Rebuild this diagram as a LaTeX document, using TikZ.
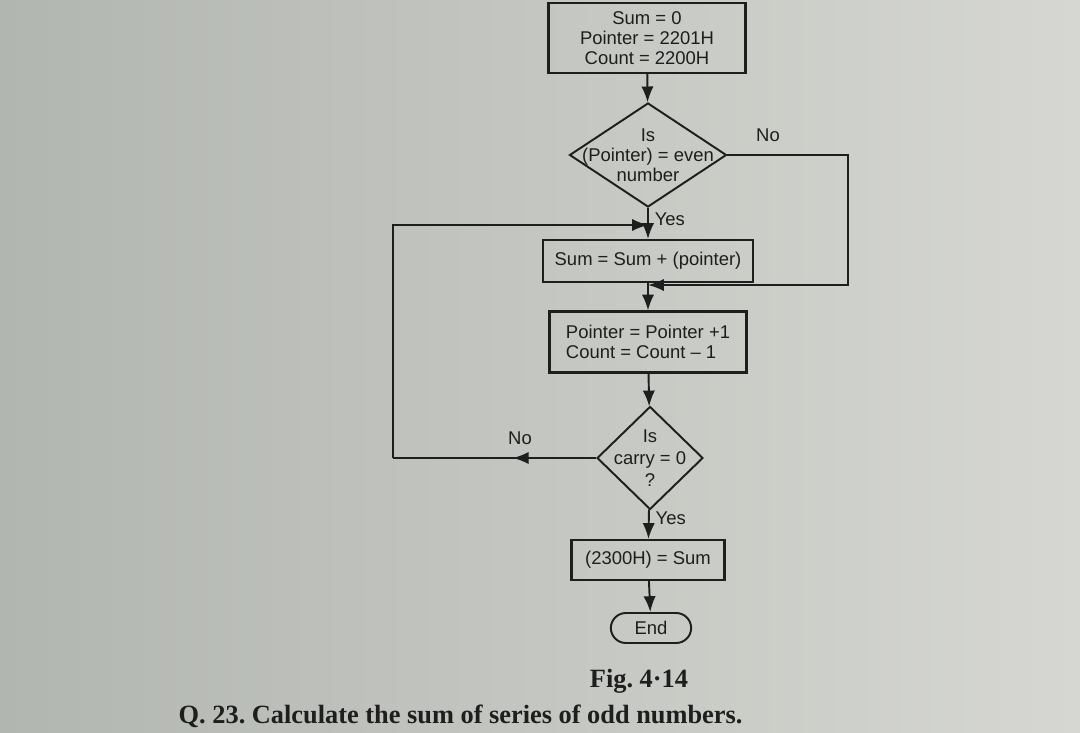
\documentclass[tikz,border=0pt]{standalone}
\usepackage{fontspec}
\setmainfont{Liberation Serif}
\setsansfont{Liberation Sans}
\usetikzlibrary{
	positioning				% relative placement
	, arrows.meta			% sized arrow tips
	, shapes.geometric		% diamond
	, shapes.misc			% rounded rectangle
	, decorations.markings	% arrow tip in the middle of a line
}
\definecolor{ink}{RGB}{30,30,30}
\definecolor{pageleft}{RGB}{178,182,176}
\definecolor{pageright}{RGB}{214,215,210}
\frenchspacing

\begin{document}
\begin{tikzpicture}[
				font=\sffamily\fontsize{10.5}{11.5}\selectfont,
				text=ink,
				element/.style={
					rectangle,
					draw=ink, line width=1.2pt,
					align=center,
					inner sep=2pt
				},
				decision/.style={
					diamond,
					draw=ink, line width=1.1pt,
					inner sep=0pt
				},
				terminal/.style={
					rounded rectangle,
					draw=ink, line width=1.1pt
				},
				line/.style={
					draw=ink,
					line width=1.1pt
				},
				arrow/.style={
					line,
					->
				},
				midarrow/.style={
					line,
					postaction={decorate},
					decoration={markings, mark=at position 0.41 with {\arrow{>}}}
				},
				caption/.style={
					font=\rmfamily\bfseries\fontsize{15}{16}\selectfont
				},
				>={Latex[length=9pt,width=7pt]}]

			%%% page
			\useasboundingbox (0,0) rectangle (21.6,-14.64);
			\fill[left color=pageleft, right color=pageright] (0,0) rectangle (21.6,-14.64);

			%%% Draw the blocks from top to bottom
			\node [element, minimum width=3.94cm, minimum height=1.4cm] (init) at (12.94,-0.76) {Sum = 0\\Pointer = 2201H\\Count = 2200H};
			\node [decision, minimum width=3.14cm, minimum height=2.08cm,
				label={[align=center]center:Is\\(Pointer) = even\\number}] (even) at (12.96,-3.10) {};
			\node [element, minimum width=4.2cm, minimum height=0.84cm] (add) at (12.96,-5.22) {Sum = Sum + (pointer)};
			\node [element, minimum width=3.94cm, minimum height=1.22cm, align=left] (next) at (12.96,-6.84) {Pointer = Pointer +1\\Count = Count -- 1};
			\node [decision, minimum width=2.12cm, minimum height=2.06cm,
				label={[align=center, font=\sffamily\fontsize{10.5}{12.5}\selectfont]center:Is\\carry = 0\\?}] (carry) at (13.0,-9.16) {};
			\node [element, minimum width=3.06cm, minimum height=0.8cm] (store) at (12.96,-11.2) {(2300H) = Sum};
			\node [terminal, minimum width=1.84cm, minimum height=0.6cm] (stop) at (13.02,-12.56) {End};

			% corners of the two loops
			\coordinate (noright) at (16.96,-5.7);
			\coordinate (joinnext) at (12.96,-5.7);
			\coordinate (noleft) at (7.86,-9.16);
			\coordinate (joinadd) at (12.96,-4.5);

			%%% Connectors
			\draw [arrow] (init) -- (even);
			\draw [arrow] (even) -- node[right, pos=0.35] {Yes} (add);
			\draw [arrow] (add) -- (next);
			\draw [arrow] (next) -- (carry);
			\draw [arrow] (carry) -- node[right, pos=0.3] {Yes} (store);
			\draw [arrow] (store) -- (stop);

			\draw [arrow] (even.east) -| (noright) -- (joinnext);
			\node at (15.36,-2.7) {No};

			\draw [midarrow] (carry.west) -- (noleft);
			\draw [arrow] (noleft) |- (joinadd);
			\node at (10.4,-8.76) {No};

			%%% caption
			\node [caption] (fig) at (12.78,-13.62) {Fig. 4·14};
			\node [caption, anchor=west] (question) at (3.45,-14.32) {Q. 23. Calculate the sum of series of odd numbers.};

		\end{tikzpicture}
\end{document}
